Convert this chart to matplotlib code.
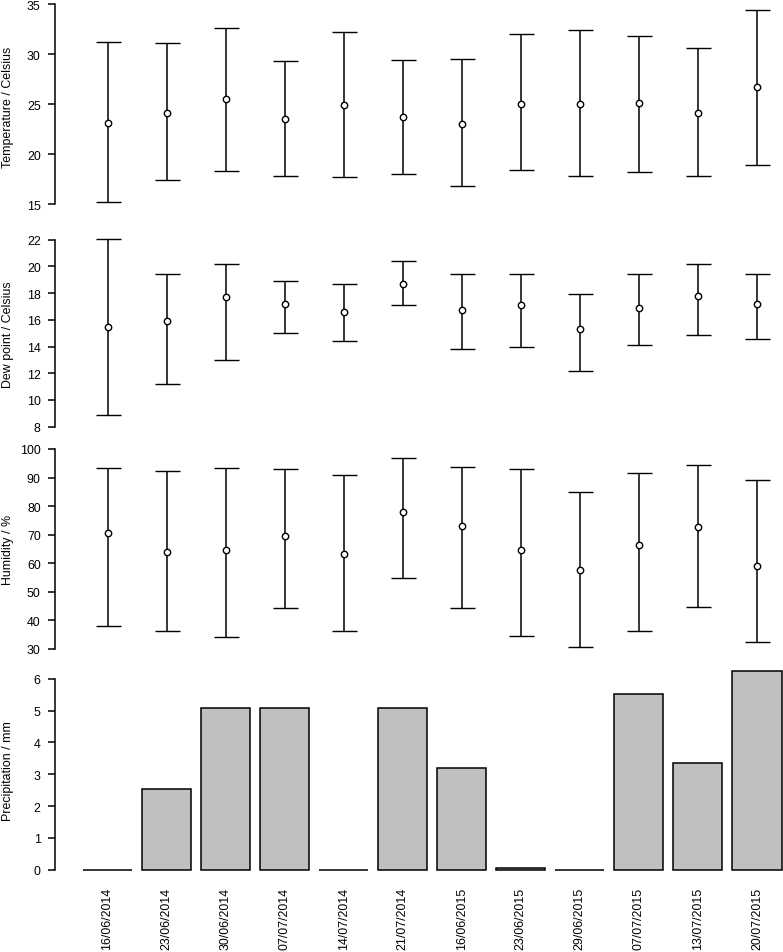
import numpy as np
import matplotlib
matplotlib.use("Agg")
import matplotlib.pyplot as plt

plt.rcParams["font.family"] = ["Liberation Sans", "DejaVu Sans"]

dates = ["16/06/2014", "23/06/2014", "30/06/2014", "07/07/2014", "14/07/2014",
         "21/07/2014", "16/06/2015", "23/06/2015", "29/06/2015", "07/07/2015",
         "13/07/2015", "20/07/2015"]

temp_mean = [23.1, 24.1, 25.5, 23.5, 24.9, 23.7, 23.0, 25.0, 25.0, 25.1, 24.1, 26.7]
temp_min = [15.2, 17.4, 18.3, 17.8, 17.7, 18.0, 16.8, 18.4, 17.8, 18.2, 17.8, 18.9]
temp_max = [31.2, 31.1, 32.6, 29.3, 32.2, 29.4, 29.5, 32.0, 32.4, 31.8, 30.6, 34.4]

dew_mean = [15.5, 15.9, 17.7, 17.2, 16.6, 18.7, 16.7, 17.1, 15.3, 16.9, 17.8, 17.2]
dew_min = [8.9, 11.2, 13.0, 15.0, 14.4, 17.1, 13.8, 14.0, 12.2, 14.1, 14.9, 14.6]
dew_max = [22.05, 19.4, 20.2, 18.9, 18.7, 20.4, 19.4, 19.4, 17.9, 19.4, 20.2, 19.4]

hum_mean = [70.5, 64.1, 64.8, 69.7, 63.1, 78.1, 73.2, 64.5, 57.5, 66.4, 72.7, 58.9]
hum_min = [37.9, 36.2, 34.2, 44.4, 36.4, 55.0, 44.5, 34.5, 30.7, 36.2, 44.8, 32.5]
hum_max = [93.2, 92.4, 93.5, 92.9, 90.9, 97.0, 93.6, 93.1, 85.1, 91.7, 94.5, 89.2]

precip = [0, 2.54, 5.08, 5.08, 0, 5.08, 3.2, 0.05, 0, 5.52, 3.34, 6.25]

# R barplot positions (width 1, space 0.2)
x = 0.7 + 1.2 * np.arange(len(dates))

W, H = 783, 953
FS = 8.9
fig = plt.figure(figsize=(W / 100, H / 100), dpi=100)


def make_axes(top, bottom):
    return fig.add_axes([55 / W, 1 - bottom / H, 1 - 55 / W, (bottom - top) / H])


def style(ax, ticks, label, top, bottom):
    for s in ["top", "right", "bottom"]:
        ax.spines[s].set_visible(False)
    ax.spines["left"].set_linewidth(1.1)
    ax.spines["left"].set_bounds(ticks[0], ticks[-1])
    ax.set_yticks(ticks)
    ax.tick_params(axis="y", length=5.1, width=1.1, pad=5.2, labelsize=FS)
    ax.tick_params(axis="x", length=0)
    ax.set_xlim(-0.368, 14.43)
    fig.text(11.5 / W, 1 - (top + bottom) / 2 / H, label, rotation=90,
             rotation_mode="anchor", ha="center", va="baseline", fontsize=FS)


def errpanel(ax, mean, lo, hi):
    mean = np.array(mean)
    yerr = [mean - np.array(lo), np.array(hi) - mean]
    ax.errorbar(x, mean, yerr=yerr, fmt="o", color="black", ecolor="black",
                elinewidth=1.1, capsize=9, capthick=1.1, markersize=4.6,
                markerfacecolor="white", markeredgewidth=1.0)
    ax.set_xticks([])


ax1 = make_axes(3, 211)
errpanel(ax1, temp_mean, temp_min, temp_max)
ax1.set_ylim(14.4, 35.2)
style(ax1, [15, 20, 25, 30, 35], "Temperature / Celsius", 3, 211)

ax2 = make_axes(233.2, 435.2)
errpanel(ax2, dew_mean, dew_min, dew_max)
ax2.set_ylim(7.44, 22.56)
style(ax2, [8, 10, 12, 14, 16, 18, 20, 22], "Dew point / Celsius", 233.2, 435.2)

ax3 = make_axes(442, 658)
errpanel(ax3, hum_mean, hum_min, hum_max)
ax3.set_ylim(27.2, 102.8)
style(ax3, [30, 40, 50, 60, 70, 80, 90, 100], "Humidity / %", 442, 658)

ax4 = make_axes(663.8, 878.7)
ax4.bar(x, precip, width=1.0, color="#c0c0c0", edgecolor="black", linewidth=1.1)
ax4.set_ylim(-0.25, 6.5)
style(ax4, [0, 1, 2, 3, 4, 5, 6], "Precipitation / mm", 663.8, 878.7)
ax4.set_xticks(x)
ax4.set_xticklabels(dates, rotation=90, fontsize=FS, va="top", ha="center")
ax4.tick_params(axis="x", length=0, pad=6.4)

fig.savefig("out.png", dpi=100)
